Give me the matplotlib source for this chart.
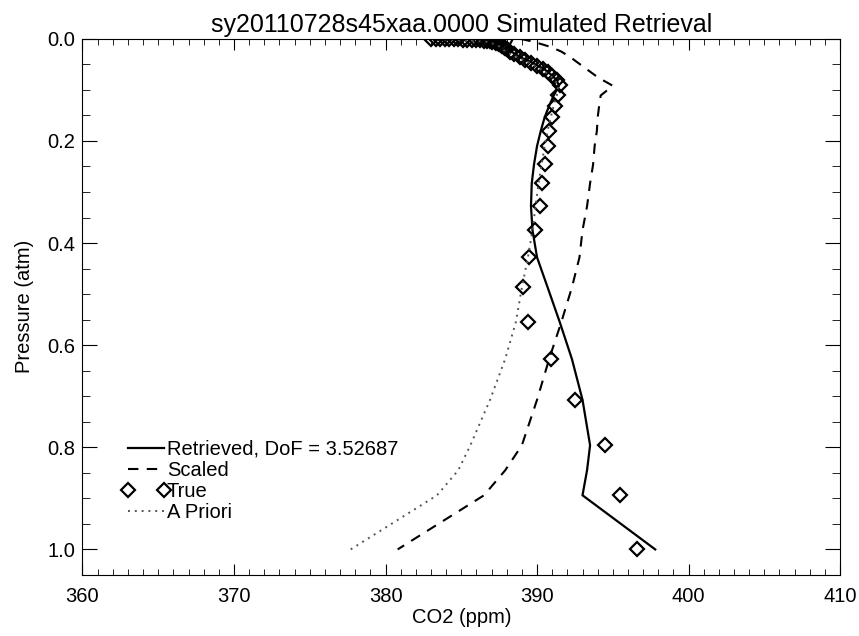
import numpy as np
import matplotlib.pyplot as plt
from matplotlib.lines import Line2D
from matplotlib.ticker import MultipleLocator
from matplotlib.legend_handler import HandlerLine2D

plt.rcParams['font.family'] = ['Liberation Sans', 'DejaVu Sans']

# pressure levels (atm) shared by the retrieved / scaled / a priori profiles
pres = [0.0001, 0.006, 0.016, 0.025, 0.036, 0.047, 0.060, 0.073, 0.082,
        0.092, 0.111, 0.131, 0.154, 0.180, 0.210, 0.246, 0.283, 0.328, 0.375,
        0.428, 0.487, 0.555, 0.627, 0.707, 0.796, 0.845, 0.894, 1.0]

retrieved = [388.4, 388.3, 388.1, 388.3, 388.9, 389.7, 390.5, 391.05, 391.3,
             391.45, 391.1, 390.8, 390.5, 390.25, 390.0, 389.8, 389.65, 389.6, 389.7,
             390.0, 390.7, 391.5, 392.3, 393.0, 393.5, 393.3, 393.0, 397.8]

scaled = [388.9, 389.8, 390.9, 391.6, 392.2, 392.7, 393.3, 393.9, 394.4,
          395.0, 394.2, 394.1, 394.0, 393.95, 393.8, 393.7, 393.5, 393.3, 393.0,
          392.8, 392.3, 391.6, 390.8, 390.0, 389.0, 387.9, 386.5, 380.8]

apriori = [383.0, 386.8, 387.6, 387.9, 388.7, 389.5, 390.3, 390.9, 391.2,
           391.4, 391.3, 391.1, 390.9, 390.7, 390.5, 390.3, 390.1, 389.9, 389.7,
           389.4, 389.0, 388.6, 387.9, 386.9, 385.6, 384.8, 383.4, 377.7]

# true profile (diamonds)
true_pres = [0.0001, 0.0002, 0.0003, 0.0005, 0.0007, 0.0009, 0.0012, 0.0015, 0.0018,
             0.0022, 0.0027, 0.0032, 0.0038, 0.0045, 0.0052, 0.006, 0.007, 0.008,
             0.009, 0.0105, 0.012, 0.014, 0.016, 0.018, 0.020, 0.025, 0.030, 0.036,
             0.041, 0.047, 0.053, 0.060, 0.066, 0.073, 0.081, 0.090, 0.111, 0.131,
             0.154, 0.180, 0.210, 0.246, 0.283, 0.328, 0.375, 0.428, 0.487, 0.555,
             0.627, 0.707, 0.796, 0.894, 1.0]
true_co2 = [383.0, 383.3, 383.6, 383.9, 384.2, 384.5, 384.8, 385.1, 385.4,
            385.7, 386.0, 386.25, 386.5, 386.7, 386.9, 387.05, 387.2, 387.3,
            387.4, 387.5, 387.6, 387.7, 387.8, 387.9, 388.0, 388.2, 388.5, 388.85,
            389.2, 389.6, 390.0, 390.4, 390.7, 391.0, 391.3, 391.5, 391.4, 391.2,
            391.0, 390.8, 390.7, 390.5, 390.35, 390.2, 389.85, 389.5, 389.1, 389.4,
            390.95, 392.5, 394.5, 395.5, 396.6]

dof = 3.52687

fig = plt.figure(figsize=(8.59, 6.36), dpi=100)
ax = fig.add_axes([0.096, 0.096, 0.882, 0.843])

ax.plot(retrieved, pres, color='black', lw=1.6, label='Retrieved, DoF = %.5f' % dof)
ax.plot(scaled, pres, color='black', lw=1.5, linestyle=(0, (5, 4)), label='Scaled')
ax.plot(true_co2, true_pres, linestyle='none', marker='D', markersize=7,
        markerfacecolor='none', markeredgecolor='black', markeredgewidth=1.6,
        label='True')
ax.plot(apriori, pres, color='#555555', lw=1.4, linestyle=(0, (1, 2.5)), label='A Priori')

ax.set_xlim(360, 410)
ax.set_ylim(1.05, 0.0)
ax.xaxis.set_major_locator(MultipleLocator(10))
ax.xaxis.set_minor_locator(MultipleLocator(1))
ax.yaxis.set_major_locator(MultipleLocator(0.2))
ax.yaxis.set_minor_locator(MultipleLocator(0.05))
ax.yaxis.set_major_formatter(plt.FormatStrFormatter('%.1f'))
ax.tick_params(axis='both', which='both', direction='in', top=True, right=True,
               labelsize=14.5)
ax.tick_params(axis='x', which='both', pad=9)
ax.tick_params(axis='y', which='both', pad=5)
ax.tick_params(axis='x', which='major', length=8)
ax.tick_params(axis='x', which='minor', length=4)
ax.tick_params(axis='y', which='major', length=11)
ax.tick_params(axis='y', which='minor', length=5.5)

ax.set_xlabel('CO2 (ppm)', fontsize=14.5, labelpad=1)
ax.set_ylabel('Pressure (atm)', fontsize=14.5, labelpad=10)
ax.set_title('sy20110728s45xaa.0000 Simulated Retrieval', fontsize=18, pad=5)

ax.legend(loc='upper left', bbox_to_anchor=(0.049, 0.267), frameon=False,
          fontsize=14.5, numpoints=2, handlelength=1.8, handletextpad=0.15,
          labelspacing=0.1, borderaxespad=0,
          handler_map={Line2D: HandlerLine2D(marker_pad=0, numpoints=2)})

fig.savefig('out.png', dpi=100)
